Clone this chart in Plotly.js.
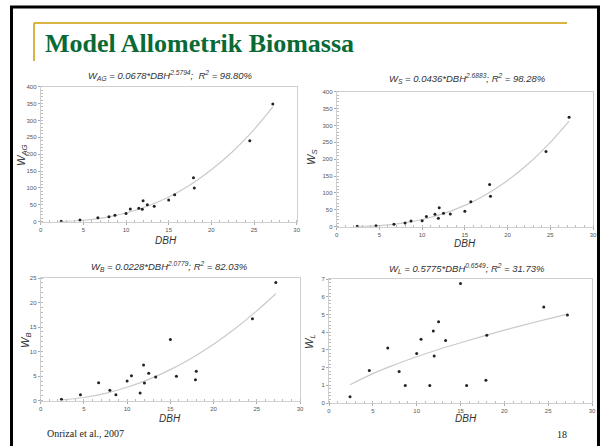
<!DOCTYPE html>
<html><head><meta charset="utf-8">
<script src="https://cdn.plot.ly/plotly-3.0.1.min.js"></script>
<style>html,body{margin:0;padding:0;background:#fff}#chart{width:602px;height:446px}</style>
</head><body><div id="chart"></div>
<script>
// Observed trees (DBH, cm) and biomass components
const dbh = [2.4,4.6,6.7,8.0,8.7,10.0,10.5,11.5,11.9,12.0,12.5,13.3,15.0,15.7,17.9,18.0,24.5,27.2];
const wAG = [1,5,12,15,19,24,38,40,37,62,50,46,64,80,130,100,240,349];
const wS  = [1,3,7,11,17,18,30,37,25,56,40,38,46,74,125,90,223,324];
const wB  = [0.27,1.23,3.68,2.11,1.23,4.02,5.1,1.57,7.29,3.61,5.59,4.84,12.47,4.97,4.29,5.99,16.7,24.1];
const wL  = [0.35,1.84,3.10,1.78,0.99,2.80,3.60,0.99,4.07,2.65,4.58,3.53,6.75,0.99,1.29,3.83,5.42,4.97];
// Fitted curves
const fitX  = [2.4,5,7.5,10,12.5,15,17.5,20,22.5,25,27.2];
const fitAG = [0.65,4.3,12.3,25.7,45.8,73.2,109,154,208,273,340];
const fitS  = [0.46,3.3,9.8,21.3,38.7,63.2,95.7,137,188,250,313];
const fitB  = [0.14,0.65,1.50,2.73,4.34,6.33,8.72,11.5,14.7,18.3,21.8];
const fitL  = [1.03,1.66,2.16,2.61,3.02,3.40,3.76,4.11,4.44,4.75,5.02];
// Text
const slideTitle = "Model Allometrik Biomassa";
const panelTitles = [
  "<i>W<sub>AG</sub> = 0.0678*DBH<sup>2.5794</sup>;  R<sup>2</sup> = 98.80%</i>",
  "<i>W<sub>S</sub> = 0.0436*DBH<sup>2.6883</sup>; R<sup>2</sup> = 98.28%</i>",
  "<i>W<sub>B</sub> = 0.0228*DBH<sup>2.0779</sup>; R<sup>2</sup> = 82.03%</i>",
  "<i>W<sub>L</sub> = 0.5775*DBH<sup>0.6549</sup>; R<sup>2</sup> = 31.73%</i>"
];
const yTitles = ["<i>W<sub>AG</sub></i>","<i>W<sub>S</sub></i>","<i>W<sub>B</sub></i>","<i>W<sub>L</sub></i>"];
const xTitle = "<i>DBH</i>";
const footer = "Onrizal et al., 2007";
const pageNo = "18";

const W = 602, H = 446;
const X = p => p / W, Y = p => 1 - p / H;

// panel boxes in pixels: [left, right, top, bottom]
const boxes = [[40.7,296.7,86.7,221.7],[336.7,593,91.7,226.7],[40.7,300,278,400.7],[329,592,279,403]];
const yRanges = [[0,400],[0,400],[0,25],[0,7]];
const yDt = [50,50,5,1];
const yMinor = [10,10,1,0.2];
const obs = [wAG,wS,wB,wL];
const fits = [fitAG,fitS,fitB,fitL];

const data = [];
const layout = {
  width: W, height: H, margin:{l:0,r:0,t:0,b:0},
  paper_bgcolor:'#fff', plot_bgcolor:'#fff', showlegend:false,
  font:{family:'Liberation Sans, Arial, sans-serif', color:'#333'},
  annotations:[], shapes:[]
};
for (let i=0;i<4;i++){
  const s = i===0 ? '' : String(i+1);
  const b = boxes[i];
  data.push({x:fitX, y:fits[i], xaxis:'x'+s, yaxis:'y'+s, mode:'lines', type:'scatter',
    line:{color:'#cacaca', width:1.2, shape:'spline'}, hoverinfo:'skip'});
  data.push({x:dbh, y:obs[i], xaxis:'x'+s, yaxis:'y'+s, mode:'markers', type:'scatter',
    marker:{color:'#222', size:3, symbol:'circle'}});
  const common = {showline:true, linecolor:'#cfcfcf', linewidth:1, mirror:true,
    ticks:'outside', ticklen:2, tickcolor:'#aaa', tickwidth:1,
    tickfont:{size:6, color:'#555', family:'Liberation Sans, Arial, sans-serif'},
    showgrid:false, zeroline:false, fixedrange:true};
  layout['xaxis'+s] = Object.assign({}, common, {domain:[X(b[0]),X(b[1])], anchor:'y'+s,
    range:[0,30], dtick:5, tick0:0, minor:{ticks:'inside', ticklen:2, tickcolor:'#bbb', dtick:1}});
  layout['yaxis'+s] = Object.assign({}, common, {domain:[Y(b[3]),Y(b[2])], anchor:'x'+s,
    range:yRanges[i], dtick:yDt[i], tick0:0, minor:{ticks:'inside', ticklen:2, tickcolor:'#bbb', dtick:yMinor[i]}});
}
// panel titles
const tpos = [[170,75],[467,78],[169,266],[467,268]];
tpos.forEach((p,i)=>layout.annotations.push({text:panelTitles[i], x:X(p[0]), y:Y(p[1]),
  xref:'paper', yref:'paper', showarrow:false, xanchor:'center', yanchor:'middle',
  font:{size:9.5, color:'#333'}}));
// y titles
const ypos = [[22,155],[312,157],[26,340],[310,342]];
ypos.forEach((p,i)=>layout.annotations.push({text:yTitles[i], x:X(p[0]), y:Y(p[1]),
  xref:'paper', yref:'paper', showarrow:false, textangle:-90, xanchor:'center', yanchor:'middle',
  font:{size:11, color:'#333'}}));
// x titles
const xpos = [[166,240],[465,243],[170,418],[466,418]];
xpos.forEach(p=>layout.annotations.push({text:xTitle, x:X(p[0]), y:Y(p[1]),
  xref:'paper', yref:'paper', showarrow:false, xanchor:'center', yanchor:'middle',
  font:{size:10, color:'#333'}}));
// slide title and footer
layout.annotations.push({text:'<b>'+slideTitle+'</b>', x:X(43), y:Y(44), xref:'paper', yref:'paper',
  showarrow:false, xanchor:'left', yanchor:'middle',
  font:{family:'Liberation Serif, Times New Roman, serif', size:26, color:'#0a6a35'}});
layout.annotations.push({text:footer, x:X(45), y:Y(433), xref:'paper', yref:'paper',
  showarrow:false, xanchor:'left', yanchor:'middle',
  font:{family:'Liberation Serif, Times New Roman, serif', size:10, color:'#222'}});
layout.annotations.push({text:pageNo, x:X(562), y:Y(434), xref:'paper', yref:'paper',
  showarrow:false, xanchor:'center', yanchor:'middle',
  font:{family:'Liberation Serif, Times New Roman, serif', size:10, color:'#222'}});
// frame and gold rule
const ln = (x0,y0,x1,y1,c,w)=>({type:'line', xref:'paper', yref:'paper',
  x0:X(x0), y0:Y(y0), x1:X(x1), y1:Y(y1), line:{color:c, width:w}});
layout.shapes.push(ln(11.5,446,11.5,7,'#000',3));
layout.shapes.push(ln(10,7,600,7,'#000',3));
layout.shapes.push(ln(598.5,7,598.5,446,'#000',3));
layout.shapes.push(ln(34,23,567,23,'#cc9a06',1.5));
layout.shapes.push(ln(34,23,34,61,'#cc9a06',1.5));

Plotly.newPlot('chart', data, layout, {staticPlot:true, displayModeBar:false});
</script></body></html>
